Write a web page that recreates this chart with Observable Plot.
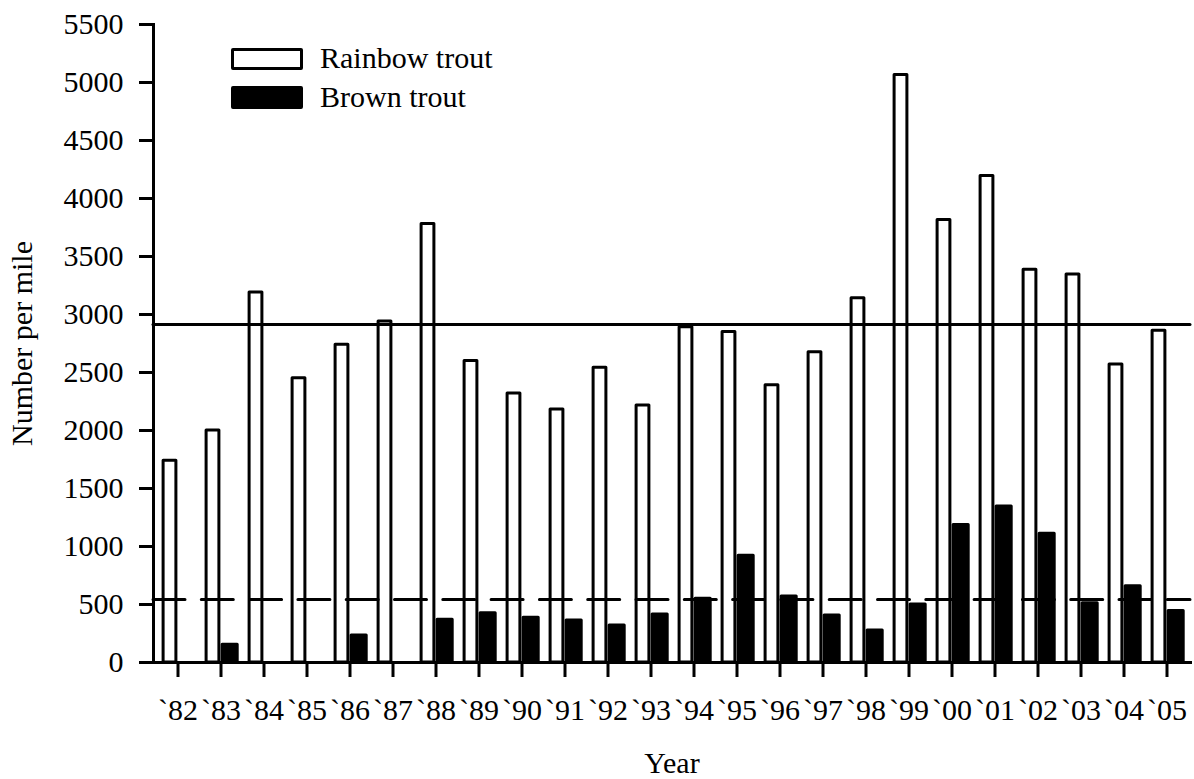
<!DOCTYPE html>
<html>
<head>
<meta charset="utf-8">
<script src="https://cdn.jsdelivr.net/npm/d3@7"></script>
<script src="https://cdn.jsdelivr.net/npm/@observablehq/plot@0.6"></script>
<style>
  html, body { margin: 0; padding: 0; background: #fff; }
  #wrap { position: relative; width: 1194px; height: 779px; font-family: "Liberation Serif", "Times New Roman", serif; }
  #chart svg, #chart svg text { font-family: "Liberation Serif", "Times New Roman", serif !important; }
  .legend-item { position: absolute; left: 231px; }
  .swatch { position: absolute; left: 0; width: 72px; box-sizing: border-box; border: 3px solid #000; border-radius: 2px; }
  .legend-label { position: absolute; left: 89px; font-size: 30px; line-height: 30px; white-space: nowrap; color: #000; }
</style>
</head>
<body>
<div id="wrap">
  <div id="chart"></div>
  <div class="legend-item" style="top:48px">
    <div class="swatch" style="top:0; height:22px; background:#fff"></div>
    <div class="legend-label" style="top:-5px">Rainbow trout</div>
  </div>
  <div class="legend-item" style="top:86px">
    <div class="swatch" style="top:0; height:23px; background:#000"></div>
    <div class="legend-label" style="top:-4.5px">Brown trout</div>
  </div>
</div>
<script>
// Survey years and estimated trout abundance (number per mile)
const years = ["`82","`83","`84","`85","`86","`87","`88","`89","`90","`91","`92","`93",
               "`94","`95","`96","`97","`98","`99","`00","`01","`02","`03","`04","`05"];
const rainbow = [1740, 2000, 3190, 2450, 2740, 2940, 3780, 2600, 2320, 2180, 2540, 2215,
                 2890, 2850, 2390, 2675, 3140, 5065, 3815, 4195, 3385, 3345, 2570, 2860];
const brown = [0, 152, 0, 0, 233, 0, 368, 425, 385, 362, 319, 414,
               550, 920, 570, 405, 276, 500, 1185, 1345, 1110, 511, 658, 445];
// Long-term averages drawn as reference lines
const rainbowAverage = 2914;
const brownAverage = 543;
const yTicks = d3.range(0, 5501, 500);

const rows = years.map((year, i) => ({year, rainbow: rainbow[i], brown: brown[i]}));
const serif = "Liberation Serif";

const chart = Plot.plot({
  width: 1194,
  height: 779,
  marginTop: 24,
  marginLeft: 153,
  marginRight: 4,
  marginBottom: 117,
  style: {fontFamily: "'Liberation Serif', serif", fontSize: "30px", color: "#000", background: "#fff"},
  x: {domain: years, padding: 0},
  y: {domain: [0, 5500]},
  marks: [
    // rainbow trout: open bars sitting left of each year tick
    Plot.rectY(rows, {x: "year", y: "rainbow", fill: "#fff", stroke: "#000", strokeWidth: 3,
      strokeLinejoin: "round", insetLeft: 7.1, insetRight: 23.1}),
    // brown trout: solid bars right of each year tick
    Plot.rectY(rows.filter(d => d.brown > 0), {x: "year", y: "brown", fill: "#000", stroke: "#000", strokeWidth: 3,
      strokeLinejoin: "round", insetLeft: 23.1, insetRight: 4.8}),
    Plot.ruleY([rainbowAverage], {stroke: "#000", strokeWidth: 3, strokeLinecap: "round"}),
    Plot.ruleY([brownAverage], {stroke: "#000", strokeWidth: 3, strokeLinecap: "round", strokeDasharray: "32,16.3"}),
    Plot.frame({anchor: "left", strokeWidth: 3}),
    Plot.frame({anchor: "bottom", strokeWidth: 3}),
    Plot.axisY({ticks: yTicks, tickFormat: d => String(d), tickSize: 14, tickPadding: 16, strokeWidth: 3,
      fontSize: 30, fontFamily: serif,
      label: "Number per mile", labelAnchor: "center", labelArrow: "none", labelOffset: 143}),
    Plot.axisX({tickSize: 15, tickPadding: 21, strokeWidth: 3, fontSize: 30, fontFamily: serif,
      label: "Year", labelAnchor: "center", labelOffset: 110})
  ]
});
document.getElementById("chart").appendChild(chart);
</script>
</body>
</html>
